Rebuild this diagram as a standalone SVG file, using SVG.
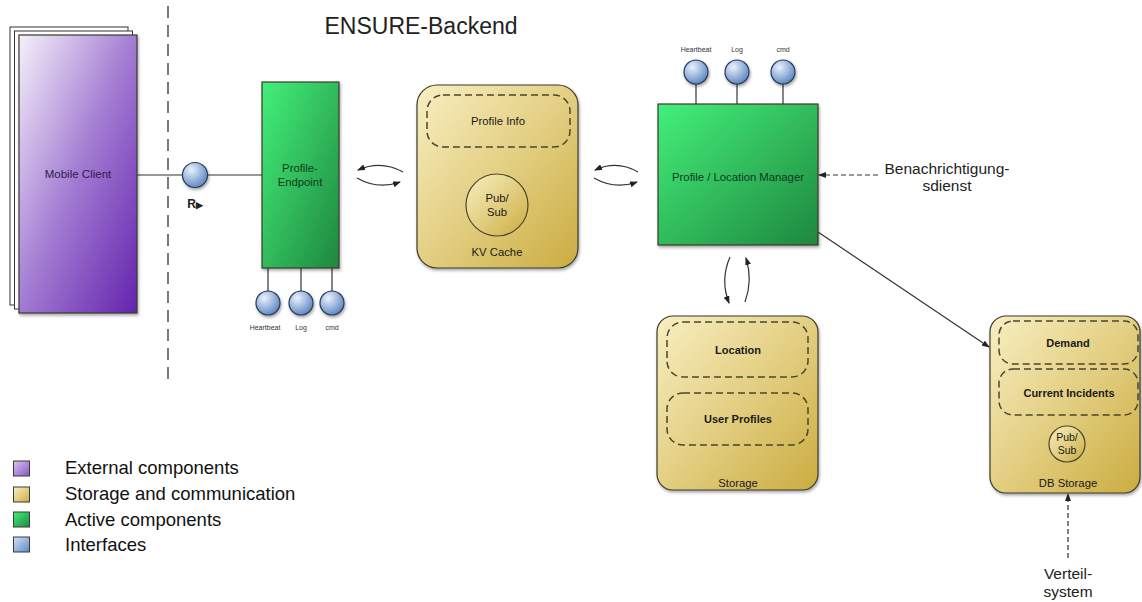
<svg xmlns="http://www.w3.org/2000/svg" width="1142" height="602" viewBox="0 0 1142 602">
<defs>
  <linearGradient id="gPurple" x1="0" y1="0" x2="1" y2="1">
    <stop offset="0" stop-color="#f6f1fa"/>
    <stop offset="0.5" stop-color="#a27bd2"/>
    <stop offset="1" stop-color="#6323ad"/>
  </linearGradient>
  <linearGradient id="gGreen" x1="0" y1="0" x2="1" y2="1">
    <stop offset="0" stop-color="#43f07a"/>
    <stop offset="1" stop-color="#1f873e"/>
  </linearGradient>
  <linearGradient id="gYellow" x1="0" y1="0" x2="1" y2="1">
    <stop offset="0" stop-color="#f8efc2"/>
    <stop offset="0.5" stop-color="#e3cf82"/>
    <stop offset="1" stop-color="#cbac40"/>
  </linearGradient>
  <radialGradient id="gBlue" cx="0.35" cy="0.3" r="0.75">
    <stop offset="0" stop-color="#eaf2fc"/>
    <stop offset="1" stop-color="#5a84c2"/>
  </radialGradient>
  <linearGradient id="gBlueSq" x1="0" y1="0" x2="1" y2="1">
    <stop offset="0" stop-color="#d4e2f6"/>
    <stop offset="1" stop-color="#5f88c6"/>
  </linearGradient>
  <linearGradient id="gPurpleSq" x1="0" y1="0" x2="1" y2="1">
    <stop offset="0" stop-color="#d9c6ef"/>
    <stop offset="1" stop-color="#8a55c6"/>
  </linearGradient>
  <filter id="shadow" x="-10%" y="-10%" width="130%" height="130%">
    <feDropShadow dx="1" dy="2" stdDeviation="1.5" flood-color="#000" flood-opacity="0.35"/>
  </filter>
  <marker id="arr" viewBox="0 0 8 6" refX="7" refY="3" markerWidth="8" markerHeight="6" markerUnits="userSpaceOnUse" orient="auto">
    <path d="M0,0 L8,3 L0,6 z" fill="#222"/>
  </marker>
  <style>
    .lbl { font-family: "Liberation Sans", Arial, sans-serif; fill: #1a1a1a; text-anchor: middle; }
    .box { stroke: #3b3a2c; stroke-width: 1.2; filter: url(#shadow); }
    .yel { fill: url(#gYellow); }
    .dash { fill: none; stroke: #4a4630; stroke-width: 1.5; stroke-dasharray: 7 4; }
    .iface { fill: url(#gBlue); stroke: #2a3a55; stroke-width: 1.2; filter: url(#shadow); }
    .wire { stroke: #333; stroke-width: 1.2; fill: none; }
    .swap { stroke: #333; stroke-width: 1.2; fill: none; marker-end: url(#arr); }
    .small { font-size: 7px; fill: #333; }
    .mid { font-size: 11.3px; }
    .bold { font-weight: bold; font-size: 11px; }
    .big { font-size: 15.5px; fill: #222; }
    .leg { font-family: "Liberation Sans", Arial, sans-serif; font-size: 18.5px; fill: #111; }
    .sq { stroke: #3a3a3a; stroke-width: 1; }
  </style>
</defs>
<rect width="1142" height="602" fill="#ffffff"/>

<!-- title -->
<text x="421" y="34" class="lbl" style="font-size:23px;fill:#222">ENSURE-Backend</text>

<!-- boundary -->
<line x1="168" y1="6" x2="168" y2="386" stroke="#333" stroke-width="1.3" stroke-dasharray="12 7"/>

<g id="connectors">
  <line x1="137" y1="175" x2="262" y2="175" class="wire"/>
  <line x1="268" y1="268" x2="268" y2="291" class="wire"/>
  <line x1="301" y1="268" x2="301" y2="291" class="wire"/>
  <line x1="332" y1="268" x2="332" y2="291" class="wire"/>
  <line x1="696" y1="84" x2="696" y2="104" class="wire"/>
  <line x1="737" y1="84" x2="737" y2="104" class="wire"/>
  <line x1="783" y1="84" x2="783" y2="104" class="wire"/>
  <path d="M403 172 Q381 160 358 170" class="swap"/>
  <path d="M357 178 Q378 190 400 182" class="swap"/>
  <path d="M638 172 Q617 160 595 170" class="swap"/>
  <path d="M594 178 Q615 190 637 182" class="swap"/>
  <path d="M730 257 Q720 280 729 303" class="swap"/>
  <path d="M745 302 Q753 280 746 258" class="swap"/>
  <line x1="878" y1="175" x2="819" y2="175" class="wire" stroke-dasharray="5 3" marker-end="url(#arr)"/>
  <line x1="818" y1="232" x2="989" y2="347" class="wire" marker-end="url(#arr)"/>
  <line x1="1068" y1="558" x2="1068" y2="494" class="wire" stroke-dasharray="5 3" marker-end="url(#arr)"/>
</g>

<g id="mobile-client">
  <rect x="10" y="27" width="118" height="278" fill="#ffffff" stroke="#333" stroke-width="1"/>
  <rect x="14.5" y="31" width="118" height="278" fill="#ffffff" stroke="#333" stroke-width="1"/>
  <rect x="19" y="35" width="118" height="278" fill="url(#gPurple)" class="box"/>
  <text x="78" y="178" class="lbl" style="font-size:11.5px;fill:#2e1a4a">Mobile Client</text>
</g>

<g id="iface-r">
  <circle cx="195" cy="175" r="12.5" class="iface"/>
  <text x="195" y="208" class="lbl" style="font-size:12px;font-weight:bold;fill:#222">R<tspan style="font-size:9px">▶</tspan></text>
</g>

<g id="profile-endpoint">
  <rect x="262" y="82" width="77" height="186" fill="url(#gGreen)" class="box"/>
  <text x="300" y="172" class="lbl mid" style="fill:#0e3a1c">Profile-</text>
  <text x="300" y="186" class="lbl mid" style="fill:#0e3a1c">Endpoint</text>
</g>

<g id="endpoint-ifaces">
  <circle cx="268" cy="303" r="12" class="iface"/>
  <circle cx="301" cy="303" r="12" class="iface"/>
  <circle cx="332" cy="303" r="12" class="iface"/>
  <text x="265" y="330" class="lbl small">Heartbeat</text>
  <text x="301" y="330" class="lbl small">Log</text>
  <text x="332" y="330" class="lbl small">cmd</text>
</g>

<g id="kv-cache">
  <rect x="417" y="85" width="161" height="183" rx="20" class="box yel"/>
  <rect x="427" y="95" width="143" height="52" rx="16" class="dash"/>
  <text x="498" y="125" class="lbl mid">Profile Info</text>
  <circle cx="497" cy="205" r="31" fill="url(#gYellow)" stroke="#4a4630" stroke-width="1.2"/>
  <text x="497" y="202" class="lbl mid">Pub/</text>
  <text x="497" y="216" class="lbl mid">Sub</text>
  <text x="497" y="256" class="lbl mid">KV Cache</text>
</g>

<g id="manager">
  <rect x="658" y="104" width="160" height="141" fill="url(#gGreen)" class="box"/>
  <text x="738" y="181" class="lbl mid" style="fill:#0e3a1c">Profile / Location Manager</text>
</g>

<g id="manager-ifaces">
  <circle cx="696" cy="72" r="12" class="iface"/>
  <circle cx="737" cy="72" r="12" class="iface"/>
  <circle cx="783" cy="72" r="12" class="iface"/>
  <text x="696" y="52" class="lbl small">Heartbeat</text>
  <text x="737" y="52" class="lbl small">Log</text>
  <text x="783" y="52" class="lbl small">cmd</text>
</g>

<g id="benachrichtigung">
  <text x="947" y="174" class="lbl big">Benachrichtigung-</text>
  <text x="947" y="191" class="lbl big">sdienst</text>
</g>

<g id="storage">
  <rect x="657" y="316" width="161" height="174" rx="16" class="box yel"/>
  <rect x="667" y="322" width="141" height="55" rx="16" class="dash"/>
  <text x="738" y="354" class="lbl bold">Location</text>
  <rect x="667" y="393" width="141" height="52" rx="16" class="dash"/>
  <text x="738" y="423" class="lbl bold">User Profiles</text>
  <text x="738" y="487" class="lbl mid">Storage</text>
</g>

<g id="db-storage">
  <rect x="990" y="316" width="150" height="177" rx="16" class="box yel"/>
  <rect x="999" y="321" width="139" height="43" rx="14" class="dash"/>
  <text x="1068" y="347" class="lbl bold">Demand</text>
  <rect x="999" y="369" width="139" height="46" rx="14" class="dash"/>
  <text x="1069" y="397" class="lbl bold">Current Incidents</text>
  <circle cx="1067" cy="444" r="18" fill="url(#gYellow)" stroke="#4a4630" stroke-width="1.2"/>
  <text x="1067" y="441" class="lbl" style="font-size:10.5px">Pub/</text>
  <text x="1067" y="454" class="lbl" style="font-size:10.5px">Sub</text>
  <text x="1068" y="487" class="lbl mid">DB Storage</text>
</g>

<g id="verteilsystem">
  <text x="1068" y="579" class="lbl big">Verteil-</text>
  <text x="1068" y="597" class="lbl big">system</text>
</g>

<g id="legend">
  <rect x="13.5" y="461" width="16" height="15" fill="url(#gPurpleSq)" class="sq"/>
  <rect x="13.5" y="487" width="16" height="15" fill="url(#gYellow)" class="sq"/>
  <rect x="13.5" y="512" width="16" height="15" fill="url(#gGreen)" class="sq"/>
  <rect x="13.5" y="537" width="16" height="15" fill="url(#gBlueSq)" class="sq"/>
  <text x="65" y="474" class="leg">External components</text>
  <text x="65" y="500" class="leg">Storage and communication</text>
  <text x="65" y="526" class="leg">Active components</text>
  <text x="65" y="551" class="leg">Interfaces</text>
</g>
</svg>
